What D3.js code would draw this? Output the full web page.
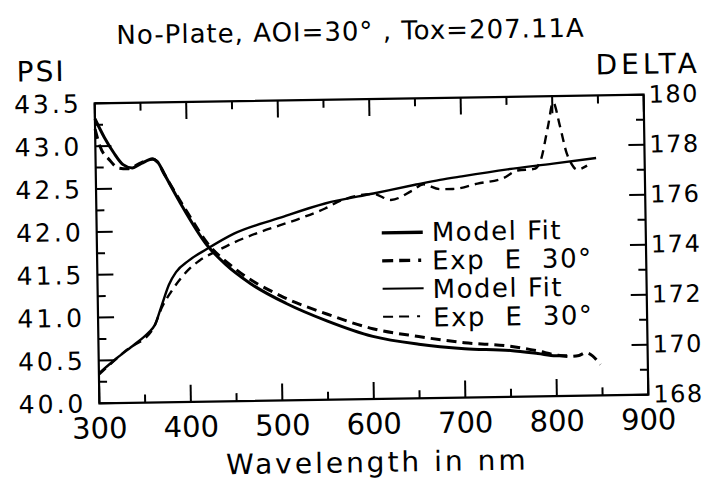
<!DOCTYPE html>
<html>
<head>
<meta charset="utf-8">
<script src="https://cdn.jsdelivr.net/npm/d3@7"></script>
<style>
  body { margin: 0; background: #fff; }
  text { font-family: "DejaVu Sans", sans-serif; fill: #000; }
</style>
</head>
<body>
<div id="chart"></div>
<script>
// --- data ---
const xTicks = [300, 400, 500, 600, 700, 800, 900];
const xMinor = [350, 450, 550, 650, 750, 850];
const psiTicks = [40.0, 40.5, 41.0, 41.5, 42.0, 42.5, 43.0, 43.5];
const psiMinor = [40.25, 40.75, 41.25, 41.75, 42.25, 42.75, 43.25];
const deltaTicks = [168, 170, 172, 174, 176, 178, 180];
const deltaMinor = [169, 171, 173, 175, 177, 179];

const psiModelWl = [300, 310, 320, 330, 340, 350, 362, 368, 375, 392, 420, 440, 467, 506, 550, 600, 650, 700, 750, 780, 800, 812];
const psiModel   = [43.32, 43.1, 42.92, 42.78, 42.74, 42.79, 42.84, 42.8, 42.66, 42.32, 41.83, 41.6, 41.37, 41.13, 40.92, 40.73, 40.63, 40.57, 40.54, 40.5, 40.47, 40.47];

const psiExpWl = [300, 305, 315, 325, 335, 350, 362, 368, 375, 400, 420, 450, 500, 550, 600, 650, 700, 750, 780, 800, 815, 825, 832, 840, 848];
const psiExp   = [43.2, 43.0, 42.84, 42.74, 42.73, 42.8, 42.84, 42.8, 42.66, 42.2, 41.86, 41.55, 41.22, 41.0, 40.82, 40.72, 40.64, 40.59, 40.53, 40.48, 40.46, 40.47, 40.5, 40.46, 40.36];

const deltaModelWl = [300, 320, 340, 355, 362, 370, 378, 386, 400, 420, 450, 500, 550, 603, 650, 676, 700, 750, 800, 847];
const deltaModel   = [169.2, 169.8, 170.35, 170.8, 171.1, 171.9, 172.7, 173.2, 173.65, 174.1, 174.7, 175.3, 175.85, 176.22, 176.55, 176.72, 176.85, 177.1, 177.3, 177.5];

const deltaExpWl = [300, 330, 360, 370, 380, 400, 412, 430, 450, 478, 500, 525, 550, 567, 603, 622, 645, 658, 676, 690, 717, 745, 761, 779, 786, 795, 801, 808, 815, 819, 826, 837];
const deltaExp   = [169.15, 170.1, 170.95, 171.8, 172.4, 173.3, 173.65, 174.0, 174.35, 174.74, 175.0, 175.3, 175.65, 175.95, 176.2, 175.95, 176.3, 176.55, 176.35, 176.35, 176.55, 176.75, 177.05, 177.1, 177.4, 178.8, 179.75, 178.8, 177.7, 177.35, 177.05, 177.2];

const legendLabels = ["Model Fit", "Exp  E  30°", "Model Fit", "Exp  E  30°"];

// --- layout ---
const width = 716, height = 483;
const plotLeft = 97, plotRight = 646, plotTop = 99, plotBottom = 399;
const majorLen = 17, minorLen = 8, tickW = 2;

const svg = d3.select("#chart")
    .append("svg")
    .attr("width", width)
    .attr("height", height);

// the scan is tilted a little, so tilt everything the same way
const g = svg.append("g")
    .attr("transform", "rotate(-0.9,371.5,249)");

const x = d3.scaleLinear().domain([300, 900]).range([plotLeft, plotRight]);
const yPsi = d3.scaleLinear().domain([40, 43.5]).range([plotBottom, plotTop]);
const yDelta = d3.scaleLinear().domain([168, 180]).range([plotBottom, plotTop]);

// frame
g.append("path")
    .attr("d", `M${plotLeft},${plotTop}H${plotRight}V${plotBottom}H${plotLeft}Z`)
    .attr("fill", "none")
    .attr("stroke", "#000")
    .attr("stroke-width", 2.2);

// --- tick labels ---
g.selectAll(".xlab")
    .data(xTicks)
    .enter()
    .append("text")
    .attr("class", "xlab")
    .attr("x", d => x(d))
    .attr("y", plotBottom + 35)
    .attr("text-anchor", "middle")
    .attr("font-size", 29)
    .text(d3.format("d"));

g.selectAll(".psilab")
    .data(psiTicks)
    .enter()
    .append("text")
    .attr("class", "psilab")
    .attr("x", plotLeft - 13)
    .attr("y", d => yPsi(d) + 9)
    .attr("text-anchor", "end")
    .attr("font-size", 25)
    .attr("letter-spacing", 3)
    .text(d3.format(".1f"));

g.selectAll(".deltalab")
    .data(deltaTicks)
    .enter()
    .append("text")
    .attr("class", "deltalab")
    .attr("x", plotRight + 5)
    .attr("y", d => yDelta(d) + 8)
    .attr("font-size", 24)
    .attr("letter-spacing", 1.5)
    .text(d3.format("d"));

// --- curves ---
const psiLine = d3.line()
    .x(d => x(d[0]))
    .y(d => yPsi(d[1]))
    .curve(d3.curveMonotoneX);
const deltaLine = d3.line()
    .x(d => x(d[0]))
    .y(d => yDelta(d[1]))
    .curve(d3.curveMonotoneX);

const series = [
    { pts: d3.zip(psiModelWl, psiModel), line: psiLine, width: 3, dash: null },
    { pts: d3.zip(psiExpWl, psiExp), line: psiLine, width: 3, dash: "10,6" },
    { pts: d3.zip(deltaModelWl, deltaModel), line: deltaLine, width: 2.4, dash: null },
    { pts: d3.zip(deltaExpWl, deltaExp), line: deltaLine, width: 2.4, dash: "9,6" }
];

g.selectAll(".curve")
    .data(series)
    .enter()
    .append("path")
    .attr("class", "curve")
    .attr("d", d => d.line(d.pts))
    .attr("fill", "none")
    .attr("stroke", "#000")
    .attr("stroke-width", d => d.width)
    .attr("stroke-dasharray", d => d.dash);

// --- ticks as small filled bars, pointing into the frame ---
const xTickMarks = [];
xTicks.forEach(v => xTickMarks.push({ v, len: majorLen }));
xMinor.forEach(v => xTickMarks.push({ v, len: minorLen }));

const tickLayer = g.append("g").attr("fill", "#000");

[plotBottom, plotTop].forEach(edge => {
    tickLayer.selectAll(null)
        .data(xTickMarks)
        .enter()
        .append("rect")
        .attr("x", d => x(d.v) - tickW / 2)
        .attr("y", d => edge === plotBottom ? plotBottom - d.len : plotTop)
        .attr("width", tickW)
        .attr("height", d => d.len);
});

const yTickMarks = [];
psiTicks.forEach(v => yTickMarks.push({ y: yPsi(v), len: majorLen - 1, side: "left" }));
psiMinor.forEach(v => yTickMarks.push({ y: yPsi(v), len: minorLen, side: "left" }));
deltaTicks.forEach(v => yTickMarks.push({ y: yDelta(v), len: majorLen - 1, side: "right" }));
deltaMinor.forEach(v => yTickMarks.push({ y: yDelta(v), len: minorLen, side: "right" }));

tickLayer.selectAll(null)
    .data(yTickMarks)
    .enter()
    .append("rect")
    .attr("x", d => d.side === "left" ? plotLeft : plotRight - d.len)
    .attr("y", d => d.y - tickW / 2)
    .attr("width", d => d.len)
    .attr("height", tickW);

// --- legend ---
const legendRows = [
    { width: 3.4, dash: null },
    { width: 3.4, dash: "11,6,11,8,3,40" },
    { width: 2, dash: null },
    { width: 2, dash: "10,6,10,8,3,40" }
];
const legend = g.append("g").attr("transform", "translate(382,233)");

legend.selectAll("line")
    .data(legendRows)
    .enter()
    .append("line")
    .attr("x1", 0)
    .attr("x2", 41)
    .attr("y1", (d, i) => i * 28)
    .attr("y2", (d, i) => i * 28)
    .attr("stroke", "#000")
    .attr("stroke-width", d => d.width)
    .attr("stroke-dasharray", d => d.dash);

legend.selectAll("text")
    .data(legendLabels)
    .enter()
    .append("text")
    .attr("x", 50)
    .attr("y", (d, i) => i * 28.5 + 9)
    .attr("font-size", 26)
    .attr("letter-spacing", 1.5)
    .style("white-space", "pre")
    .text(d => d);

// --- titles ---
g.append("text")
    .attr("x", 354)
    .attr("y", 40)
    .attr("text-anchor", "middle")
    .attr("font-size", 26)
    .attr("letter-spacing", 1)
    .text("No-Plate, AOI=30° , Tox=207.11A");

g.append("text")
    .attr("x", 44)
    .attr("y", 76)
    .attr("text-anchor", "middle")
    .attr("font-size", 28)
    .attr("letter-spacing", 2)
    .text("PSI");

g.append("text")
    .attr("x", 651)
    .attr("y", 78)
    .attr("text-anchor", "middle")
    .attr("font-size", 28)
    .attr("letter-spacing", 4)
    .text("DELTA");

g.append("text")
    .attr("x", 374)
    .attr("y", 472)
    .attr("text-anchor", "middle")
    .attr("font-size", 28)
    .attr("letter-spacing", 3)
    .text("Wavelength in nm");
</script>
</body>
</html>
